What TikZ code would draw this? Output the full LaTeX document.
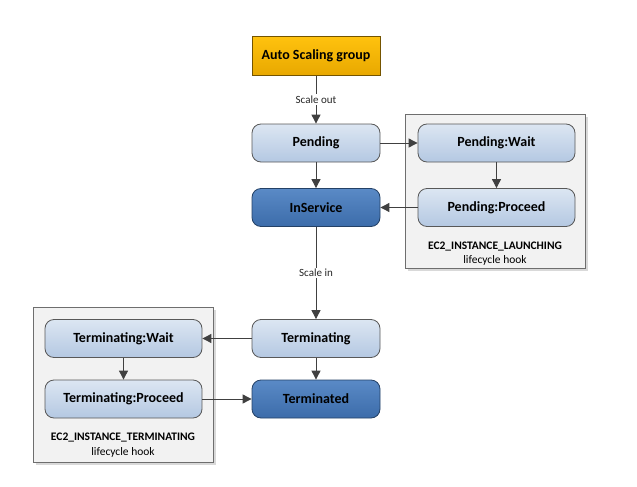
\documentclass[tikz,border=0pt]{standalone}
\usepackage{fontspec}
\setmainfont{Carlito}
\usetikzlibrary{arrows.meta}
\definecolor{linec}{HTML}{404040}
\definecolor{lbtop}{HTML}{DCE6F2}
\definecolor{lbbot}{HTML}{B4C8E2}
\definecolor{dbtop}{HTML}{5A8AC6}
\definecolor{dbbot}{HTML}{3C6CAA}
\definecolor{ortop}{HTML}{FFC20E}
\definecolor{orbot}{HTML}{E8A800}
\definecolor{hookfill}{HTML}{F2F2F2}
\definecolor{hookdraw}{HTML}{6E6E6E}
\begin{document}
\begin{tikzpicture}[x=1pt,y=-1pt,
  base/.style={draw=hookdraw!80!black, line width=0.8pt, font=\fontsize{14}{16}\selectfont\bfseries, text=black, minimum height=38, inner sep=0pt},
  light/.style={base, rounded corners=9pt, top color=lbtop, bottom color=lbbot, minimum width=128},
  dark/.style={base, rounded corners=9pt, top color=dbtop, bottom color=dbbot, draw=dbbot!60!black, minimum width=128},
  hooknode/.style={light, minimum width=157},
  asg/.style={base, top color=ortop, bottom color=orbot, draw=orbot!50!black, minimum width=128, minimum height=39},
  hookbox/.style={draw=hookdraw, fill=hookfill, line width=0.8pt, inner sep=0pt},
  arr/.style={draw=linec, line width=0.9pt, -{Triangle[length=9pt,width=9pt]}},
  lab/.style={fill=white, font=\fontsize{11}{13}\selectfont, inner sep=1.5pt, text=black!85},
  hooktxt/.style={font=\fontsize{11.5}{14.5}\selectfont, align=center, text=black}
]
\useasboundingbox (0,0) rectangle (637,487);
% hook boxes with shadows
\fill[black!15] (408,117) rectangle (588,271);
\node[hookbox, minimum width=180, minimum height=154] (lbox) at (495,191) {};
\fill[black!15] (36,310) rectangle (216,465);
\node[hookbox, minimum width=180, minimum height=155] (tbox) at (123,384.5) {};

\node[asg] (asg) at (316,56) {Auto Scaling group};
\node[light] (pend) at (316,143) {Pending};
\node[dark] (insv) at (316,207.5) {InService};
\node[hooknode] (pwait) at (496.5,143) {Pending:Wait};
\node[hooknode] (pproc) at (496.5,207.5) {Pending:Proceed};
\node[hooktxt] (ltxt) at (495,253.5) {\textbf{EC2\_INSTANCE\_LAUNCHING}\\lifecycle hook};

\node[light] (term) at (316,338.5) {Terminating};
\node[dark] (termd) at (316,399) {Terminated};
\node[hooknode] (twait) at (123.5,338.5) {Terminating:Wait};
\node[hooknode] (tproc) at (123.5,399) {Terminating:Proceed};
\node[hooktxt] (ttxt) at (123,445) {\textbf{EC2\_INSTANCE\_TERMINATING}\\lifecycle hook};

\draw[arr] (asg) -- node[lab] {Scale out} (pend);
\draw[arr] (pend) -- (insv);
\draw[arr] (pend) -- (pwait);
\draw[arr] (pwait) -- (pproc);
\draw[arr] (pproc) -- (insv);
\draw[arr] (insv) -- node[lab, pos=0.5] {Scale in} (term);
\draw[arr] (term) -- (termd);
\draw[arr] (term) -- (twait);
\draw[arr] (twait) -- (tproc);
\draw[arr] (tproc) -- (termd);
\end{tikzpicture}
\end{document}
